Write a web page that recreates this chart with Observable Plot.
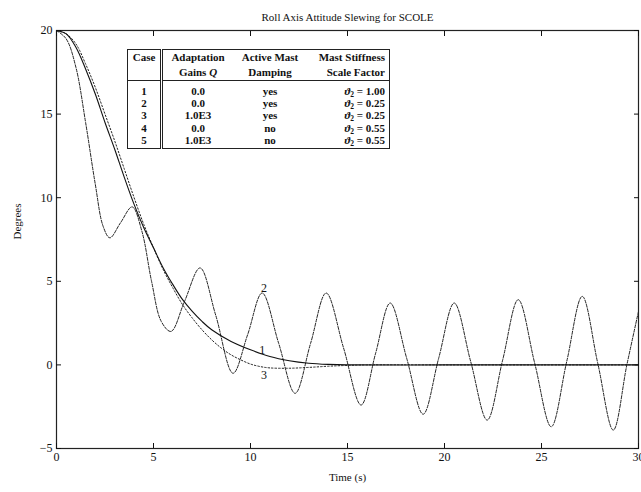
<!DOCTYPE html>
<html>
<head>
<meta charset="utf-8">
<script src="https://cdn.jsdelivr.net/npm/d3@7"></script>
<script src="https://cdn.jsdelivr.net/npm/@observablehq/plot@0.6"></script>
<style>
  body { margin: 0; background: #fff; }
  #wrap { position: relative; width: 641px; height: 492px; }
  #tbl { position: absolute; left: 127px; top: 49px; border-collapse: collapse;
         font-family: "Liberation Serif", serif; font-weight: bold; font-size: 11px;
         color: #111; background: #fff; border: 1.2px solid #222; }
  #tbl td, #tbl th { padding: 0 4px; white-space: nowrap; line-height: 12.2px; height: 12.2px; }
  #tbl th { font-weight: bold; vertical-align: middle; line-height: 15px; height: 15px; }
  #tbl .c1 { border-right: 3px double #222; text-align: center; width: 24px; }
  #tbl .c2 { text-align: center; width: 62px; }
  #tbl .c3 { text-align: center; width: 66px; }
  #tbl .c4 { text-align: right; width: 74px; }
  #tbl thead tr:last-child th { border-bottom: 1px solid #222; }
  #tbl tbody tr:first-child td { padding-top: 4px; }
  #tbl tbody tr:last-child td { padding-bottom: 2px; }
  #tbl sub { font-size: 7.5px; line-height: 0; vertical-align: -2px; }
</style>
</head>
<body>
<div id="wrap"></div>
<script>
const title = "Roll Axis Attitude Slewing for SCOLE";
const xLabel = "Time (s)";
const yLabel = "Degrees";
const xTicks = [0, 5, 10, 15, 20, 25, 30];
const yTicks = [-5, 0, 5, 10, 15, 20];

// Case 1 (solid)
const t1 = [0, 0.5, 1, 1.5, 2, 2.5, 3, 3.5, 4, 4.5, 5, 5.5, 6, 6.5, 7, 7.5, 8, 9, 10, 11, 12, 13, 14, 15, 20, 25, 30];
const v1 = [20, 19.8, 19.0, 17.7, 16.2, 14.5, 12.9, 11.2, 9.6, 8.2, 7.0, 5.8, 4.8, 3.9, 3.2, 2.6, 2.1, 1.4, 0.9, 0.5, 0.25, 0.1, 0.03, 0, 0, 0, 0];

// Case 3 (dotted)
const t3 = [0, 0.5, 1, 1.5, 2, 2.5, 3, 3.5, 4, 4.5, 5, 5.5, 6, 6.5, 7, 7.5, 8, 8.5, 9, 9.5, 10, 10.5, 11, 12, 13, 14, 15, 16, 20, 25, 30];
const v3 = [20, 19.8, 19.2, 18.0, 16.6, 15.0, 13.4, 11.7, 10.0, 8.4, 7.0, 5.7, 4.6, 3.6, 2.8, 2.1, 1.5, 1.0, 0.6, 0.3, 0.05, -0.1, -0.18, -0.2, -0.15, -0.08, -0.03, 0, 0, 0, 0];

// Case 2 (dashed, oscillating)
const t2 = [0, 0.5, 1.0, 1.5, 2.0, 2.4, 2.75, 3.3, 3.9, 4.4, 4.9, 5.4, 5.9, 6.6, 7.4, 8.2, 9.1, 9.85, 10.6, 11.45, 12.3, 13.1, 13.9, 14.8, 15.7, 16.45, 17.2, 18.05, 18.9, 19.7, 20.5, 21.35, 22.2, 23.0, 23.8, 24.65, 25.5, 26.3, 27.1, 27.9, 28.7, 29.4, 30.0];
const v2 = [20, 19.5, 17.8, 14.5, 10.8, 8.3, 7.6, 8.5, 9.45, 8.0, 5.0, 2.6, 2.0, 3.8, 5.8, 3.0, -0.5, 1.8, 4.3, 1.3, -1.7, 1.3, 4.3, 1.0, -2.4, 0.7, 3.7, 0.4, -2.95, 0.4, 3.7, 0.2, -3.3, 0.3, 3.9, 0.1, -3.7, 0.2, 4.1, 0.1, -3.9, 0, 3.2];

const curveLabels = ["1", "2", "3"];
const labelT = [10.6, 10.7, 10.7];
const labelV = [0.9, 4.6, -0.6];

// Table
const tableHead1 = ["Case", "Adaptation", "Active Mast", "Mast Stiffness"];
const tableHead2 = ["", "Gains <i>Q</i>", "Damping", "Scale Factor"];
const cases = ["1", "2", "3", "4", "5"];
const gains = ["0.0", "0.0", "1.0E3", "0.0", "1.0E3"];
const damping = ["yes", "yes", "yes", "no", "no"];
const stiffness = ["1.00", "0.25", "0.25", "0.55", "0.55"];

const d1 = t1.map((t, i) => ({t, v: v1[i]}));
const d2 = t2.map((t, i) => ({t, v: v2[i]}));
const d3 = t3.map((t, i) => ({t, v: v3[i]}));
const labs = curveLabels.map((s, i) => ({s, t: labelT[i], v: labelV[i]}));

const plot = Plot.plot({
  width: 641,
  height: 492,
  marginLeft: 56,
  marginRight: 3,
  marginTop: 30,
  marginBottom: 44,
  style: {fontFamily: "Liberation Serif, serif", fontSize: "12px", background: "#fff", color: "#111"},
  x: {domain: [0, 30], ticks: xTicks, label: null},
  y: {domain: [-5, 20], ticks: yTicks, label: null},
  marks: [
    Plot.frame({stroke: "#222", strokeWidth: 1.2}),
    Plot.axisX({ticks: xTicks, tickSize: 0, tickPadding: 4, label: null}),
    Plot.axisX({ticks: xTicks, tickSize: -5, tickFormat: () => "", label: null}),
    Plot.axisX({anchor: "top", ticks: xTicks, tickSize: -5, tickFormat: () => "", label: null}),
    Plot.axisY({ticks: yTicks, tickSize: 0, tickPadding: 4, label: null}),
    Plot.axisY({ticks: yTicks, tickSize: -5, tickFormat: () => "", label: null}),
    Plot.axisY({anchor: "right", ticks: yTicks, tickSize: -5, tickFormat: () => "", label: null}),
    Plot.line(d2, {x: "t", y: "v", curve: "catmull-rom", stroke: "#222", strokeWidth: 1, strokeDasharray: "3,1.5"}),
    Plot.line(d3, {x: "t", y: "v", curve: "catmull-rom", stroke: "#222", strokeWidth: 1, strokeDasharray: "1.5,2"}),
    Plot.line(d1, {x: "t", y: "v", curve: "catmull-rom", stroke: "#111", strokeWidth: 1.1}),
    Plot.text(labs, {x: "t", y: "v", text: "s", fontSize: 12, fill: "#111"}),
    Plot.text([title], {frameAnchor: "top", dy: -17, fontSize: 11, fill: "#111"}),
    Plot.text([xLabel], {frameAnchor: "bottom", dy: 32, fontSize: 11, fill: "#111"}),
    Plot.text([yLabel], {frameAnchor: "left", dx: -39, rotate: -90, fontSize: 11, fill: "#111"})
  ]
});

const wrap = document.getElementById("wrap");
wrap.appendChild(plot);

const tbl = document.createElement("table");
tbl.id = "tbl";
let html = "<thead><tr>" + tableHead1.map((h, i) => `<th class="c${i+1}">${h}</th>`).join("") + "</tr>";
html += "<tr>" + tableHead2.map((h, i) => `<th class="c${i+1}">${h}</th>`).join("") + "</tr></thead><tbody>";
cases.forEach((c, i) => {
  html += `<tr><td class="c1">${c}</td><td class="c2">${gains[i]}</td><td class="c3">${damping[i]}</td><td class="c4"><i>ϑ</i><sub>2</sub> = ${stiffness[i]}</td></tr>`;
});
html += "</tbody>";
tbl.innerHTML = html;
wrap.appendChild(tbl);
</script>
</body>
</html>
